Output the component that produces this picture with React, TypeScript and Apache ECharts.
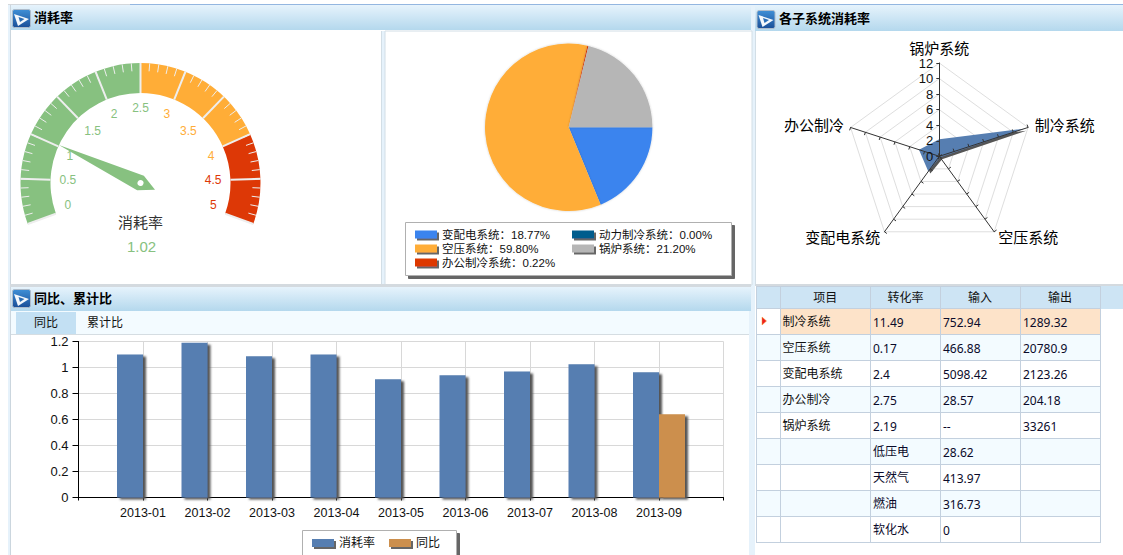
import React, { useEffect, useRef } from "react";
import * as echarts from "echarts";

const FONT = '"Liberation Sans","Noto Sans CJK SC",sans-serif';
const TABLE_FONT = '"Noto Sans","Noto Sans CJK SC",sans-serif';

// gauge
const gaugeTitle = "消耗率";
const gaugeValue = 1.02;

// pie
const pieNames = ["变配电系统", "动力制冷系统", "空压系统", "办公制冷系统", "锅炉系统"];
const pieValues = [18.77, 0.0, 59.8, 0.22, 21.2];
const pieColors = ["#3b84ee", "#005b8d", "#ffad37", "#dd3806", "#b6b6b6"];
const pieLegendLeft = ["变配电系统", "空压系统", "办公制冷系统"];
const pieLegendRight = ["动力制冷系统", "锅炉系统"];

// radar (ECharts walks the indicators counter-clockwise from the top)
const radarNames = ["锅炉系统", "办公制冷", "变配电系统", "空压系统", "制冷系统"];
const radarValues = [2.19, 2.75, 2.4, 0.17, 11.49];

// bars
const months = ["2013-01", "2013-02", "2013-03", "2013-04", "2013-05", "2013-06", "2013-07", "2013-08", "2013-09"];
const rateValues = [1.1, 1.19, 1.087, 1.1, 0.91, 0.94, 0.97, 1.025, 0.963];
const yoyValues = [null, null, null, null, null, null, null, null, 0.64];

// table
const tableHead = ["项目", "转化率", "输入", "输出"];
const colItems = ["制冷系统", "空压系统", "变配电系统", "办公制冷", "锅炉系统", "", "", "", ""];
const colRates = ["11.49", "0.17", "2.4", "2.75", "2.19", "低压电", "天然气", "燃油", "软化水"];
const colInputs = ["752.94", "466.88", "5098.42", "28.57", "--", "28.62", "413.97", "316.73", "0"];
const colOutputs = ["1289.32", "20780.9", "2123.26", "204.18", "33261", "", "", "", ""];

const tabs = ["同比", "累计比"];

const rect = (x: number, y: number, w: number, h: number, fill: any, extra: any = {}) => ({
  type: "rect",
  z: -1,
  silent: true,
  shape: { x, y, width: w, height: h },
  style: { fill, ...extra },
});
const text = (x: number, y: number, t: string, font: string, fill = "#111", align = "left") => ({
  type: "text",
  z: 10,
  silent: true,
  x,
  y,
  style: { text: t, font, fill, textAlign: align, align, textVerticalAlign: "middle", verticalAlign: "middle" },
});
const headGrad = () =>
  new echarts.graphic.LinearGradient(0, 0, 0, 1, [
    { offset: 0, color: "#e6f3fc" },
    { offset: 1, color: "#b4d8ed" },
  ]);
const icon = (x: number, y: number) => ({
  type: "group",
  z: 10,
  silent: true,
  x,
  y,
  children: [
    {
      type: "rect",
      z: 10,
      shape: { x: 0.5, y: 0.5, width: 18, height: 18, r: 2 },
      style: {
        fill: new echarts.graphic.LinearGradient(0, 0, 0, 1, [
          { offset: 0, color: "#3f8fd6" },
          { offset: 1, color: "#1a4f98" },
        ]),
        stroke: "#aebccb",
      },
    },
    { type: "polygon", z: 11, shape: { points: [[2, 5], [17, 10], [6, 17]] }, style: { fill: "#f4f8fc" } },
    { type: "polygon", z: 12, shape: { points: [[6.5, 8], [12.5, 10], [8, 13]] }, style: { fill: "#2a6db5" } },
  ],
});

function buildGraphics() {
  const GL = "#c3d0de";
  const els: any[] = [];
  // page strips
  els.push(rect(8, 4, 3, 551, "#e6f2fb"));
  els.push(rect(10, 5, 1, 550, "#cbd6de"));
  els.push(rect(8, 4, 122, 1, "#d4d8dc"));
  els.push(rect(130, 4, 993, 1, "#93b6e0"));
  els.push(rect(749, 31, 6, 524, "#e6f2fb"));
  els.push(rect(751, 5, 4, 26, "#e6f2fb"));
  // headers
  els.push(rect(11, 5, 740, 25, headGrad()));
  els.push(rect(755, 5, 368, 26, headGrad()));
  els.push(rect(11, 287, 740, 24, headGrad()));
  // top panels
  els.push(rect(381, 31, 5, 254, "#e6f2fb"));
  els.push(rect(381, 31, 1, 254, "#d2dee6"));
  els.push(rect(385, 31, 367, 254, "#ffffff", { stroke: "#d2dee6", lineWidth: 1 }));
  els.push(rect(10, 284, 741, 3, "#d4dadf"));
  els.push(rect(755, 31, 1, 254, "#d2dee6"));
  els.push(rect(755, 284, 368, 2, "#d4dadf"));
  // tab strip
  els.push(rect(11, 311, 738, 23, "#f3fbff"));
  els.push(rect(16, 312, 60, 22, "#c3e0f3"));
  els.push(rect(11, 334, 738, 1, "#d5dde2"));
  els.push(text(46, 323, tabs[0], `12px ${FONT}`, "#111", "center"));
  els.push(text(105, 323, tabs[1], `12px ${FONT}`, "#111", "center"));
  // header titles
  els.push(icon(12, 9), icon(756.5, 10), icon(12, 289));
  els.push(text(34, 17, "消耗率", `bold 13px ${FONT}`, "#000"));
  els.push(text(779, 18, "各子系统消耗率", `bold 13px ${FONT}`, "#000"));
  els.push(text(34, 298.5, "同比、累计比", `bold 13px ${FONT}`, "#000"));
  // legend boxes
  const boxStyle = { stroke: "#b0b0b0", lineWidth: 1, shadowColor: "#666", shadowBlur: 1, shadowOffsetX: 3, shadowOffsetY: 3 };
  els.push(rect(405.5, 222.5, 326, 53, "#ffffff", boxStyle));
  els.push(rect(302.5, 530.5, 154, 40, "#ffffff", boxStyle));
  // table
  const colX = [756, 780, 870, 940, 1020, 1100];
  const rowY = [286, 308, 334, 360, 386, 412, 438, 464, 490, 516, 542];
  els.push(rect(756, 286, 367, 23, "#cde4f4"));
  els.push(rect(780, 308, 320, 26, "#fde3c9"));
  for (let r = 2; r < 10; r++) {
    if (r % 2 === 0) els.push(rect(756, rowY[r], 344, 26, "#f3fbff"));
  }
  els.push(rect(756, 308, 24, 26, "#ffffff"));
  rowY.forEach((y) => els.push(rect(756, y, 344.5, 1, GL)));
  colX.forEach((x) => els.push(rect(x, 286, 1, 257, GL)));
  const heads = [825.3, 905.5, 980, 1060];
  tableHead.forEach((h, i) => els.push(text(heads[i], 297.5, h, `12px ${FONT}`, "#111", "center")));
  colItems.forEach((t, i) => {
    const y = 321.5 + i * 26;
    if (t) els.push(text(782.5, y, t, `12px ${FONT}`));
    const rf = /\d/.test(colRates[i]) ? `12px ${TABLE_FONT}` : `12px ${FONT}`;
    els.push(text(873, y + 0.5, colRates[i], rf, "#0a0a2a"));
    els.push(text(943, y + 0.5, colInputs[i], `12px ${TABLE_FONT}`, "#0a0a2a"));
    if (colOutputs[i]) els.push(text(1023, y + 0.5, colOutputs[i], `12px ${TABLE_FONT}`, "#0a0a2a"));
  });
  els.push({
    type: "polygon",
    z: 10,
    silent: true,
    shape: { points: [[762, 317], [766.5, 321], [762, 325]] },
    style: { fill: "#ee2020", stroke: "#f59a30", lineWidth: 0.5 },
  });
  return els;
}

const legendShadow = { shadowColor: "#666", shadowBlur: 1, shadowOffsetX: 2, shadowOffsetY: 2 };
const pieLegend = (left: number, data: string[]) => ({
  left,
  top: 227.5,
  orient: "vertical",
  padding: 0,
  itemGap: 0,
  itemWidth: 22,
  itemHeight: 8,
  icon: "rect",
  selectedMode: false,
  data,
  itemStyle: legendShadow,
  textStyle: { fontFamily: FONT, fontSize: 11.5, color: "#111", lineHeight: 14 },
  formatter: (n: string) => `${n}：${pieValues[pieNames.indexOf(n)].toFixed(2)}%`,
});

// style of each gauge scale label (its nudge is in gaugeLabelRich)
const gaugeLabelRow = (v: number) => {
  if (v === 0 || v === 5) return "up";
  if (v === 1 || v === 1.5 || v === 3.5 || v === 4) return "down";
  if (v === 2) return "right";
  if (v === 3) return "left";
  return "plain";
};
const gaugeLabelRich = {
  up: { fontSize: 12, fontFamily: FONT, padding: [0, 0, 12, 0] },
  down: { fontSize: 12, fontFamily: FONT, padding: [12, 0, 0, 0] },
  right: { fontSize: 12, fontFamily: FONT, padding: [0, 0, 0, 8] },
  left: { fontSize: 12, fontFamily: FONT, padding: [0, 8, 0, 0] },
  plain: { fontSize: 12, fontFamily: FONT },
};

const radarBase = {
  center: [939.3, 156.3],
  radius: 93.3,
  startAngle: 90,
  splitNumber: 6,
  shape: "polygon",
};

export default function App() {
  const ref = useRef<HTMLDivElement>(null);
  useEffect(() => {
    document.body.style.margin = "0";
    const chart = echarts.init(ref.current!, undefined, { renderer: "svg" });
    const slots = ["", ...months, ""];
    chart.setOption({
      animation: false,
      backgroundColor: "#ffffff",
      textStyle: { fontFamily: FONT },
      graphic: { elements: buildGraphics() },
      legend: [
        pieLegend(415, pieLegendLeft),
        pieLegend(572, pieLegendRight),
        {
          left: 312,
          top: 536,
          orient: "horizontal",
          padding: 0,
          itemGap: 14,
          itemWidth: 22,
          itemHeight: 8,
          icon: "rect",
          selectedMode: false,
          data: ["消耗率", "同比"],
          itemStyle: legendShadow,
          textStyle: { fontFamily: FONT, fontSize: 12, color: "#111", lineHeight: 14 },
        },
      ],
      grid: { left: 78.5, top: 341.5, width: 645, height: 156 },
      xAxis: {
        type: "category",
        data: slots,
        boundaryGap: false,
        axisLine: { lineStyle: { color: "#000", width: 1 } },
        axisTick: { show: true, length: 3, interval: 0, lineStyle: { color: "#000" } },
        axisLabel: { interval: 0, color: "#111", fontSize: 12.5, margin: 9, fontFamily: FONT },
        splitLine: { show: true, interval: 0, lineStyle: { color: "#d8d8d8" } },
      },
      yAxis: {
        type: "value",
        min: 0,
        max: 1.2,
        interval: 0.2,
        axisLine: { show: true, lineStyle: { color: "#000" } },
        axisTick: { show: true, length: 6, lineStyle: { color: "#000" } },
        axisLabel: { color: "#111", fontSize: 13, margin: 10, fontFamily: FONT },
        splitLine: { show: true, lineStyle: { color: "#d8d8d8" } },
      },
      radar: [
        {
          ...radarBase,
          z: 0,
          axisName: { show: false },
          axisLine: { show: false },
          axisTick: { show: false },
          axisLabel: { show: false },
          splitLine: { show: true, lineStyle: { color: "#dedede" } },
          splitArea: { show: false },
          indicator: radarNames.map((name) => ({ name, min: 0, max: 12 })),
        },
        {
          ...radarBase,
          z: 3,
          nameGap: 7,
          axisName: { color: "#000", fontSize: 15, fontFamily: FONT },
          axisLine: { show: true, lineStyle: { color: "#333", width: 1 } },
          axisTick: { show: true, length: 3, lineStyle: { color: "#333" } },
          axisLabel: { show: false, color: "#111", fontSize: 13, margin: 6, fontFamily: FONT, showMinLabel: true, showMaxLabel: true },
          splitLine: { show: false },
          splitArea: { show: false },
          indicator: radarNames.map((name, i) => ({
            name,
            min: 0,
            max: 12,
            ...(i === 0 ? { axisLabel: { show: true } } : {}),
          })),
        },
      ],
      series: [
        {
          type: "gauge",
          center: [140.5, 183],
          radius: 120,
          startAngle: 200,
          endAngle: -20,
          min: 0,
          max: 5,
          splitNumber: 10,
          axisLine: {
            lineStyle: {
              width: 30,
              color: [
                [0.5, "#87c180"],
                [0.8, "#ffad37"],
                [1, "#dd3806"],
              ],
            },
          },
          splitLine: { length: 30, distance: -30, lineStyle: { color: "#eeeeee", width: 2 } },
          axisTick: { show: true, splitNumber: 5, length: 8, distance: -30, lineStyle: { color: "#eeeeee", width: 1 } },
          axisLabel: {
            distance: 39,
            color: "auto",
            fontSize: 12,
            fontFamily: FONT,
            formatter: (v: number) => `{${gaugeLabelRow(v)}|${v}}`,
            rich: gaugeLabelRich,
          },
          pointer: {
            show: true,
            icon: "path://M0,0 L8,90 L0,106 L-8,90 Z M0,87 A3,3 0 1,0 0,93 A3,3 0 1,0 0,87 Z",
            length: 106,
            width: 16,
            offsetCenter: [0, 16],
            itemStyle: { color: "#87c180" },
          },
          anchor: { show: false },
          progress: { show: false },
          title: { offsetCenter: [0, 39], fontSize: 15, color: "#333", fontFamily: FONT },
          detail: {
            offsetCenter: [1, 63.5],
            fontSize: 15,
            color: "#87c180",
            fontWeight: "normal",
            fontFamily: FONT,
            formatter: (v: number) => v.toFixed(2),
          },
          data: [{ name: gaugeTitle, value: gaugeValue }],
        },
        {
          type: "pie",
          center: [568.7, 127.3],
          radius: 83.7,
          startAngle: 0,
          clockwise: true,
          silent: true,
          label: { show: false },
          labelLine: { show: false },
          itemStyle: { shadowColor: "rgba(0,0,0,0.2)", shadowBlur: 2 },
          data: pieNames.map((name, i) => ({ name, value: pieValues[i], itemStyle: { color: pieColors[i] } })),
        },
        {
          type: "radar",
          radarIndex: 0,
          z: 1,
          symbol: "none",
          silent: true,
          lineStyle: { width: 0 },
          areaStyle: { color: "#567eb1", opacity: 1, shadowColor: "#555", shadowBlur: 1, shadowOffsetX: 2, shadowOffsetY: 2 },
          data: [{ name: "各子系统消耗率", value: radarValues }],
        },
        {
          type: "bar",
          name: "消耗率",
          barWidth: 26,
          barGap: 0,
          itemStyle: { color: "#567eb1", shadowColor: "#555", shadowBlur: 2, shadowOffsetX: 3, shadowOffsetY: 2 },
          data: [null, ...rateValues, null],
        },
        {
          type: "bar",
          name: "同比",
          barWidth: 26,
          barGap: 0,
          itemStyle: { color: "#cc8f4d", shadowColor: "#555", shadowBlur: 2, shadowOffsetX: 3, shadowOffsetY: 2 },
          data: [null, ...yoyValues, null],
        },
      ],
    });
    return () => chart.dispose();
  }, []);
  return <div ref={ref} style={{ width: 1123, height: 555 }} />;
}
